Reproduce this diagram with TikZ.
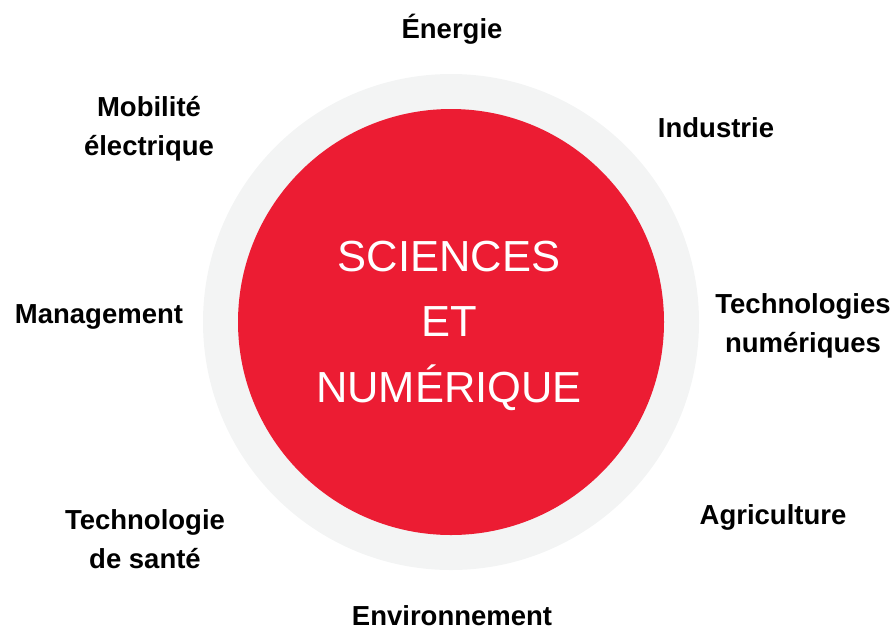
\documentclass[tikz,border=0pt]{standalone}
\usepackage{fontspec}
\setmainfont{Liberation Sans}
\definecolor{ringgrey}{HTML}{F3F4F4}
\definecolor{corered}{HTML}{EC1C33}
\begin{document}
\begin{tikzpicture}[x=1pt, y=-1pt,
    every node/.style={inner sep=0pt, align=center},
    field/.style={anchor=base, font=\fontsize{27.5}{38.5}\selectfont\bfseries}]
  \useasboundingbox (0,0) rectangle (893,630);

  % ring and core
  \fill[ringgrey] (451,322) circle (248);
  \fill[corered] (451,322) circle (213);

  % centre (base = last line)
  \node[anchor=base, text=white, font=\fontsize{43.5}{65.5}\selectfont] (core) at (449,402)
    {SCIENCES\\ET\\NUMÉRIQUE};

  % fields round the circle
  \node[field] (energie) at (452,38) {Énergie};
  \node[field] (industrie) at (716,137) {Industrie};
  \node[field] (numerique) at (803,352) {Technologies\\numériques};
  \node[field] (agriculture) at (773,524) {Agriculture};
  \node[field] (environnement) at (452,625) {Environnement};
  \node[field] (sante) at (145,568) {Technologie\\de santé};
  \node[field] (management) at (99,323) {Management};
  \node[field] (mobilite) at (149,155) {Mobilité\\électrique};
\end{tikzpicture}
\end{document}
